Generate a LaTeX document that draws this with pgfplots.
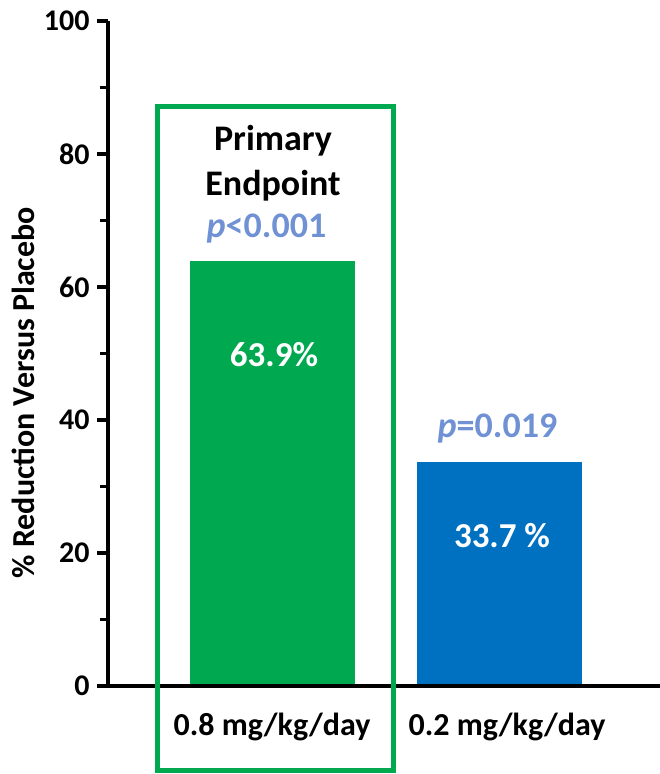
\documentclass[border=0pt]{standalone}
\usepackage{fontspec}
\setmainfont{Carlito}
\usepackage{pgfplots}
\pgfplotsset{compat=1.18}
\definecolor{mygreen}{RGB}{0,168,80}
\definecolor{myblue}{RGB}{0,112,192}
\definecolor{pblue}{RGB}{112,146,212}
\newcommand{\fs}[1]{\fontsize{#1}{#1}\selectfont\bfseries}
\begin{document}
\begin{tikzpicture}[x=1pt,y=1pt]
\useasboundingbox (0,0) rectangle (660,774);
\begin{axis}[
  at={(108pt,88pt)}, anchor=south west,
  scale only axis, width=552pt, height=665pt,
  xmin=108, xmax=660, ymin=0, ymax=100,
  axis x line*=bottom, axis y line*=left,
  axis line style={line width=4pt,-},
  x axis line style={draw=none},
  xtick=\empty,
  ytick={0,20,...,100},
  extra y ticks={10,30,50,70,90},
  extra y tick labels={},
  extra y tick style={major tick length=8pt, major tick style={line width=3.5pt, black}},
  tick align=outside,
  major tick length=11pt,
  major tick style={line width=4pt, black},
  yticklabel style={font=\fs{30}, xshift=-4pt},
  /pgf/number format/assume math mode=true,
  ylabel={\% Reduction Versus Placebo},
  ylabel style={font=\fs{32}, at={(axis description cs:-0.154,0.441)}, anchor=center, rotate=0},
  clip=false,
]
\addplot[ybar, bar shift=0pt, bar width=165, fill=mygreen, draw=none] coordinates {(272.5,63.9)};
\addplot[ybar, bar shift=0pt, bar width=165, fill=myblue, draw=none] coordinates {(499,33.7)};
\draw[line width=4pt] (axis cs:100,0) -- (axis cs:660,0);
\draw[mygreen, line width=5pt] (axis cs:157,-12.7) rectangle (axis cs:393,87.1);
\node[anchor=base, font=\fs{36}] at (axis cs:273,80.6) {Primary};
\node[anchor=base, font=\fs{36}] at (axis cs:273,73.8) {Endpoint};
\node[anchor=base, font=\fs{36}, text=pblue] at (axis cs:266.5,67.5) {\textit{p}<0.001};
\node[anchor=base, font=\fs{36}, text=pblue] at (axis cs:497.5,37.4) {\textit{p}=0.019};
\node[anchor=base, font=\fs{35}, text=white] at (axis cs:274,48.0) {63.9\%};
\node[anchor=base, font=\fs{35}, text=white] at (axis cs:502,20.9) {33.7 \%};
\node[anchor=base, font=\fs{32}] at (axis cs:272,-7.5) {0.8 mg/kg/day};
\node[anchor=base, font=\fs{32}] at (axis cs:507,-7.5) {0.2 mg/kg/day};
\end{axis}
\end{tikzpicture}
\end{document}
